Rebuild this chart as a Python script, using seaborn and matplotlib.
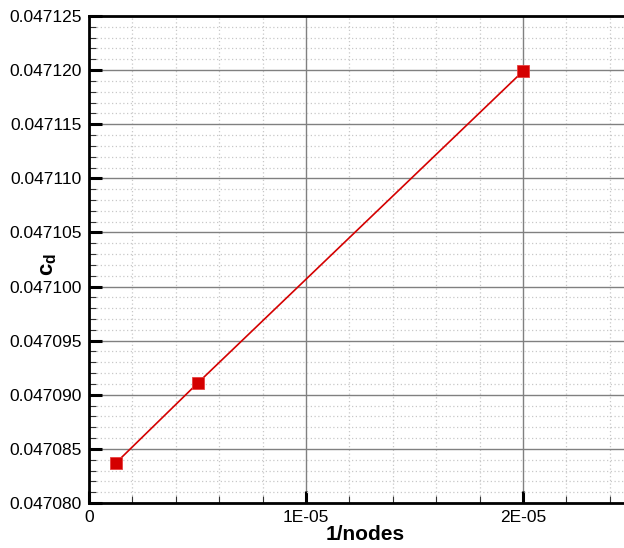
import matplotlib
matplotlib.use("Agg")
import matplotlib.pyplot as plt
from matplotlib.ticker import MultipleLocator, FuncFormatter
import seaborn as sns
import pandas as pd

# Grid-convergence study: drag coefficient vs inverse node count
inv_nodes = [1.24e-6, 5.02e-6, 2.0e-5]
cd_values = [0.0470837, 0.0470911, 0.0471199]
x_tick_labels = {0: "0", 1e-5: "1E-05", 2e-5: "2E-05"}

df = pd.DataFrame({"inv_nodes": inv_nodes, "cd": cd_values})

sns.set_style("white")
plt.rcParams["font.family"] = ["Liberation Sans", "DejaVu Sans"]
plt.rcParams["mathtext.fontset"] = "custom"
plt.rcParams["mathtext.bf"] = "Liberation Sans:bold"
plt.rcParams["mathtext.rm"] = "Liberation Sans"

fig = plt.figure(figsize=(6.24, 5.48), dpi=100)
ax = fig.add_axes([89 / 624, 45 / 548, 542.5 / 624, 487 / 548])

sns.lineplot(data=df, x="inv_nodes", y="cd", ax=ax, color="#d40000",
             linewidth=1.2, marker="s", markersize=9,
             markerfacecolor="#d40000", markeredgecolor="#e84040",
             markeredgewidth=0.6, zorder=5)

ax.set_xlim(0, 2.5e-5)
ax.set_ylim(0.047080, 0.047125)

ax.xaxis.set_major_locator(MultipleLocator(1e-5))
ax.xaxis.set_minor_locator(MultipleLocator(2e-6))
ax.yaxis.set_major_locator(MultipleLocator(5e-6))
ax.yaxis.set_minor_locator(MultipleLocator(1e-6))

ax.xaxis.set_major_formatter(FuncFormatter(
    lambda v, p: x_tick_labels.get(round(v, 10), "%.0E" % v)))
ax.yaxis.set_major_formatter(FuncFormatter(lambda v, p: "%.6f" % v))

ax.grid(which="major", color="#808080", linestyle="-", linewidth=1.0)
ax.grid(which="minor", color="#c8c8c8", linestyle=(0, (1, 2)), linewidth=0.9)
ax.set_axisbelow(True)

ax.tick_params(which="major", direction="in", length=9, width=2.2,
               labelsize=12.5, colors="black", pad=5)
ax.tick_params(which="minor", direction="in", length=5, width=0.8,
               color="#333333")
ax.tick_params(axis="both", which="both", left=True, bottom=True,
               top=False, right=False)

for side in ["left", "bottom", "top"]:
    ax.spines[side].set_linewidth(2.0)
    ax.spines[side].set_color("black")
ax.spines["right"].set_visible(False)

ax.set_xlabel("1/nodes", fontsize=15, fontweight="bold", color="black")
ax.xaxis.set_label_coords(0.51, -0.046)
ax.set_ylabel(r"$\mathbf{c_d}$", fontsize=16, color="black")
ax.yaxis.set_label_coords(-0.056, 0.489)

fig.savefig("out.png", dpi=100)
